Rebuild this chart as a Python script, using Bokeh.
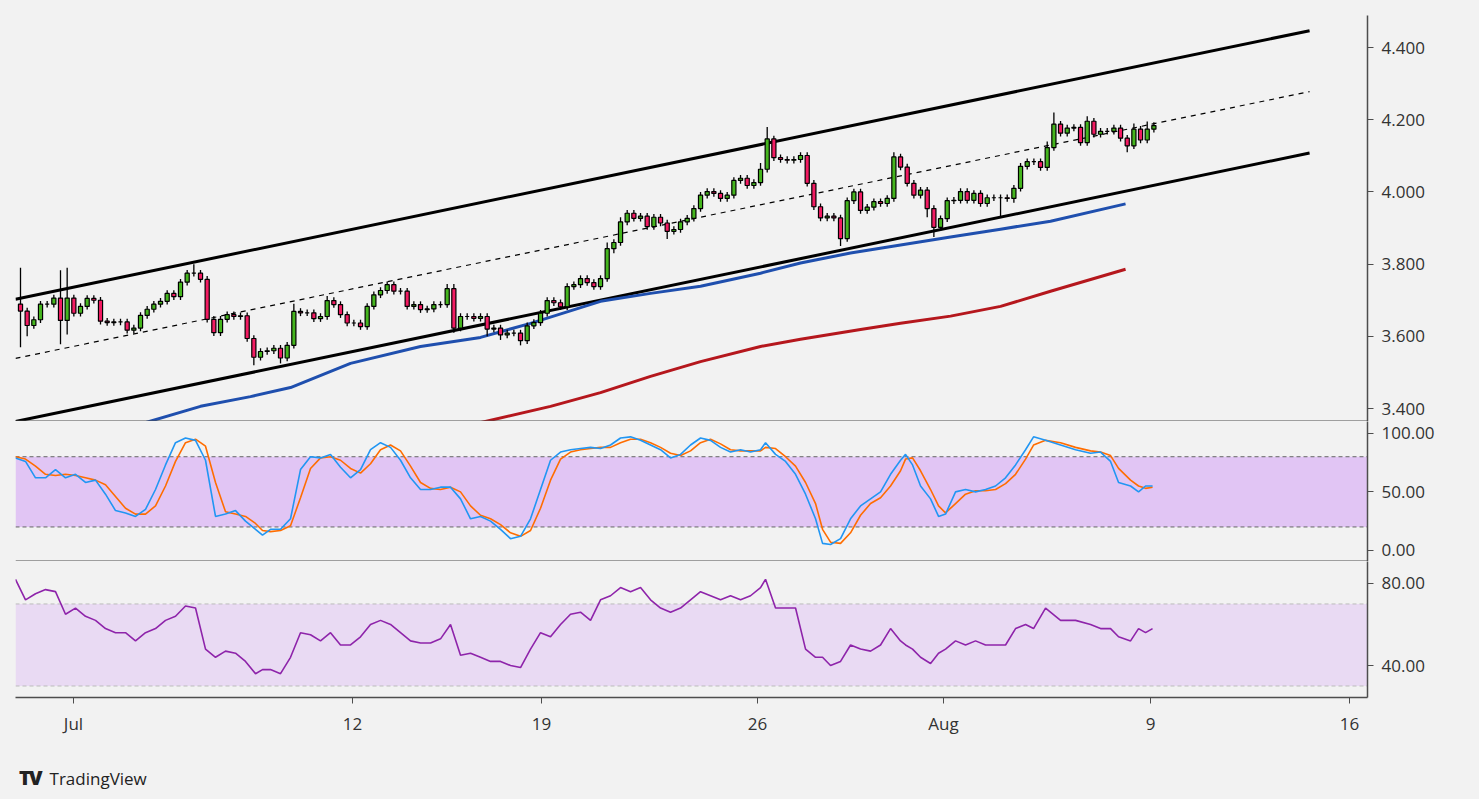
from bokeh.plotting import figure
from bokeh.layouts import column
from bokeh.models import Range1d, FixedTicker, Span, Div, ColumnDataSource, BoxAnnotation, NumeralTickFormatter
from bokeh.embed import file_html
from bokeh.resources import INLINE

# ---------------- data ----------------
closes = [3.67,3.63,3.646,3.689,3.689,3.706,3.644,3.706,3.664,3.683,
          3.705,3.70,3.642,3.638,3.64,3.64,3.617,3.623,3.658,3.675,
          3.689,3.697,3.719,3.71,3.75,3.775,3.775,3.758,3.647,3.61,
          3.647,3.66,3.655,3.657,3.594,3.542,3.558,3.56,3.567,3.54,
          3.575,3.669,3.665,3.665,3.649,3.655,3.699,3.688,3.66,3.637,
          3.637,3.627,3.683,3.715,3.727,3.743,3.725,3.725,3.683,3.688,
          3.674,3.676,3.688,3.688,3.732,3.623,3.655,3.655,3.65,3.655,
          3.62,3.623,3.604,3.609,3.609,3.588,3.629,3.638,3.664,3.699,
          3.693,3.682,3.738,3.743,3.76,3.749,3.738,3.76,3.843,3.86,
          3.917,3.941,3.927,3.933,3.904,3.93,3.914,3.891,3.896,3.917,
          3.927,3.954,3.991,4.001,3.996,3.982,3.991,4.032,4.038,4.018,
          4.026,4.063,4.147,4.095,4.09,4.088,4.09,4.101,4.024,3.959,
          3.928,3.933,3.928,3.871,3.976,4.0,3.949,3.958,3.973,3.968,
          3.982,4.097,4.069,4.024,3.991,4.005,3.954,3.902,3.926,3.976,
          3.977,4.001,3.977,3.996,3.968,3.984,3.984,3.984,3.982,4.01,
          4.071,4.084,4.084,4.068,4.123,4.188,4.163,4.177,4.179,4.137,
          4.196,4.16,4.168,4.168,4.177,4.149,4.128,4.174,4.144,4.174,
          4.184]
first_open = 3.689
big_highs = {0: 3.79, 6: 3.783, 7: 3.79, 26: 3.80, 41: 3.69, 46: 3.712, 55: 3.752,
             64: 3.745, 65: 3.745, 88: 3.86, 90: 3.93, 111: 4.08, 112: 4.18, 117: 4.11,
             131: 4.11, 154: 4.14, 155: 4.22, 160: 4.21, 167: 4.19, 169: 4.195}
big_lows = {0: 3.57, 1: 3.60, 6: 3.578, 7: 3.605, 35: 3.52, 39: 3.525, 65: 3.61,
            70: 3.60, 72: 3.59, 75: 3.575, 89: 3.83, 97: 3.87, 123: 3.85, 136: 3.93,
            137: 3.875, 147: 3.93, 149: 3.97, 166: 4.11}
wick = 0.009

chan_t = [-0.75, 193.35]
chan_upper = [3.703, 4.447]
chan_mid = [3.539, 4.278]
chan_lower = [3.364, 4.108]

ma_fast_t = [18.75,27,34.5,40.5,49.5,60,69,76.5,87,94.5,102,111,117,124.5,132,139.5,147,154.5,165.75]
ma_fast_v = [3.361,3.406,3.433,3.458,3.525,3.572,3.597,3.636,3.697,3.719,3.739,3.775,3.803,3.831,3.853,3.875,3.897,3.919,3.967]
ma_slow_t = [69,79.5,87,94.5,102,111,117,126,132,139.5,147,154.5,165.75]
ma_slow_v = [3.361,3.406,3.444,3.489,3.53,3.572,3.592,3.619,3.636,3.656,3.683,3.725,3.786]

osc_t = [-0.75,0.75,2.25,3.75,5.25,6.75,8.25,9.75,11.25,12.75,
         14.25,15.75,17.25,18.75,20.25,21.75,23.25,24.75,26.25,27.75,
         29.25,30.75,32.25,33.75,35.25,36.3,37.5,39,40.5,42,
         43.5,45,46.5,48,49.5,51,52.5,54,55.5,57,
         58.5,60,61.5,63,64.5,66,67.5,69,70.5,72,
         73.5,75,76.5,78,79.5,81,82.5,84,85.5,87,
         88.5,90,91.5,93,94.5,96,97.5,99,100.5,102,
         103.5,105,106.5,108,109.5,111,111.75,113.25,114.75,116.25,
         117.75,119.25,120.3,121.5,123,124.5,126,127.5,129,130.5,
         132,132.75,133.8,135,136.5,137.7,138.75,140.25,141.75,143.25,
         144.75,146.25,147.75,149.25,150.75,151.95,153.75,156,158.25,160.5,
         162,163.5,164.7,166.5,167.7,168.75,169.8]
stoch_k = [79,76,62,62,69,62,65,58,60,48,
           34,32,29,35,52,73,92,96,94,77,
           29,31,34,25,18,13,18,18,27,69,
           80,79,82,71,62,69,86,92,88,77,
           62,52,52,54,54,44,27,29,25,18,
           10,12,27,52,77,84,86,87,88,87,
           90,96,97,94,90,86,79,82,90,96,
           94,88,84,86,84,86,92,82,76,65,
           48,27,6,5,10,27,38,44,50,65,
           77,82,73,55,44,29,31,50,52,50,
           52,55,62,73,86,97,94,90,86,83,
           84,76,58,55,50,55,55]
stoch_d = [80,78,72,65,64,65,64,62,60,56,
           46,36,31,31,38,55,76,92,95,89,
           58,33,31,29,23,17,16,17,21,45,
           70,79,80,77,70,66,74,86,90,85,
           72,58,53,52,54,50,38,30,27,22,
           15,12,17,36,60,78,84,86,87,88,
           88,92,95,95,92,88,83,81,85,92,
           95,91,86,85,85,85,88,87,80,72,
           58,40,18,7,6,15,30,40,45,55,
           68,78,79,68,52,38,32,40,48,51,
           51,52,57,65,78,90,94,92,88,85,
           84,81,70,60,55,53,54]
rsi = [82,72,75,77,76,65,68,64,62,58,
       56,56,52,56,58,62,64,69,68,48,
       44,47,46,42,36,38,38,36,44,56,
       55,52,56,50,50,54,60,62,60,56,
       52,51,51,53,60,45,46,44,42,42,
       40,39,48,56,54,60,65,66,62,72,
       74,78,76,78,72,68,66,68,72,76,
       74,72,74,72,74,78,82,68,68,68,
       48,44,44,40,42,50,48,47,50,58,
       52,50,48,44,41,46,48,52,50,52,
       50,50,50,58,60,58,68,62,62,60,
       58,58,54,52,58,56,58]

x_tick_pos = [7.95, 49.8, 78.15, 110.55, 138.45, 169.5, 199.35]
x_tick_lab = ["Jul", "12", "19", "26", "Aug", "9", "16"]
price_ticks = [3.4, 3.6, 3.8, 4.0, 4.2, 4.4]
stoch_ticks = [0, 50, 100]
rsi_ticks = [40, 80]

# ---------------- derived ----------------
n = len(closes)
idx = list(range(n))
opens = [first_open] + closes[:-1]
highs = [big_highs.get(i, max(opens[i], closes[i]) + wick) for i in idx]
lows = [big_lows.get(i, min(opens[i], closes[i]) - wick) for i in idx]
up = [closes[i] >= opens[i] for i in idx]
src_up = ColumnDataSource(dict(x=[i for i in idx if up[i]], t=[closes[i] for i in idx if up[i]], b=[opens[i] for i in idx if up[i]]))
src_dn = ColumnDataSource(dict(x=[i for i in idx if not up[i]], t=[opens[i] for i in idx if not up[i]], b=[closes[i] for i in idx if not up[i]]))

BG = "#F2F2F2"
AX = "#4d4d4d"
TXT = "#333333"
FONT = "Open Sans"
FW = 1352
xr = Range1d(-0.75, -0.75 + FW / 6.667)


def style(p, yticks, fmt):
    p.background_fill_color = BG
    p.border_fill_color = BG
    p.outline_line_color = None
    p.grid.visible = False
    ax = p.yaxis[0]
    ax.ticker = FixedTicker(ticks=yticks)
    ax.formatter = NumeralTickFormatter(format=fmt)
    ax.axis_line_color = AX
    ax.axis_line_width = 1.5
    ax.major_tick_line_color = AX
    ax.major_tick_out = 6
    ax.major_tick_in = 0
    ax.minor_tick_line_color = None
    ax.major_label_text_font = FONT
    ax.major_label_text_font_size = "17px"
    ax.major_label_text_color = TXT
    ax.major_label_standoff = 8


common = dict(frame_width=FW, x_range=xr, y_axis_location="right", output_backend="svg",
              toolbar_location=None, min_border_left=15, min_border_right=104)

p1 = figure(frame_height=406, y_range=Range1d(3.364, 4.489), x_axis_location=None,
            min_border_top=15, min_border_bottom=0, **common)
style(p1, price_ticks, "0.000")
p1.line(chan_t, chan_upper, color="black", line_width=3)
p1.line(chan_t, chan_lower, color="black", line_width=3)
p1.line(chan_t, chan_mid, color="black", line_width=1.2, line_dash="5 5")
p1.line(ma_fast_t, ma_fast_v, color="#1f4fae", line_width=3)
p1.line(ma_slow_t, ma_slow_v, color="#b5171d", line_width=3)
p1.segment(x0=idx, y0=lows, x1=idx, y1=highs, color="black", line_width=1.3)
p1.vbar(x="x", top="t", bottom="b", width=0.62, source=src_up, fill_color="#45B51E", line_color="black", line_width=1.2)
p1.vbar(x="x", top="t", bottom="b", width=0.62, source=src_dn, fill_color="#F21B62", line_color="black", line_width=1.2)
p1.add_layout(Span(location=3.364, dimension="width", line_color=AX, line_width=2))

p2 = figure(frame_height=140, y_range=Range1d(-9.5, 110.1), x_axis_location=None,
            min_border_top=0, min_border_bottom=0, **common)
style(p2, stoch_ticks, "0.00")
p2.add_layout(BoxAnnotation(bottom=20, top=80, fill_color="#E1C5F4", fill_alpha=1, line_color=None, level="underlay"))
p2.add_layout(Span(location=80, dimension="width", line_color="#666666", line_width=1, line_dash="4 3", level="underlay"))
p2.add_layout(Span(location=20, dimension="width", line_color="#666666", line_width=1, line_dash="4 3", level="underlay"))
p2.line(osc_t, stoch_d, color="#FF6D00", line_width=1.6)
p2.line(osc_t, stoch_k, color="#2196F3", line_width=1.6)
p2.add_layout(Span(location=-9.5, dimension="width", line_color=AX, line_width=2))

p3 = figure(frame_height=136, y_range=Range1d(24.4, 90.7),
            min_border_top=0, min_border_bottom=48, **common)
style(p3, rsi_ticks, "0.00")
p3.add_layout(BoxAnnotation(bottom=30, top=70, fill_color="#E9DAF3", fill_alpha=1, line_color=None, level="underlay"))
p3.add_layout(Span(location=70, dimension="width", line_color="#bbbbbb", line_width=1, line_dash="4 3", level="underlay"))
p3.add_layout(Span(location=30, dimension="width", line_color="#bbbbbb", line_width=1, line_dash="4 3", level="underlay"))
p3.line(osc_t, rsi, color="#8E24AA", line_width=1.6)
xa = p3.xaxis[0]
xa.ticker = FixedTicker(ticks=x_tick_pos)
xa.major_label_overrides = {t: l for t, l in zip(x_tick_pos, x_tick_lab)}
xa.axis_line_color = AX
xa.axis_line_width = 1.5
xa.major_tick_line_color = AX
xa.major_tick_out = 6
xa.major_tick_in = 0
xa.minor_tick_line_color = None
xa.major_label_text_font = FONT
xa.major_label_text_font_size = "17px"
xa.major_label_text_color = TXT
xa.major_label_standoff = 8

logo = Div(text="<div style=\"font-family:'Open Sans';font-size:17px;color:#222;padding-left:14px;padding-top:14px\">"
                "<span style='font-weight:900;font-size:20px;letter-spacing:-2px'>TV</span>&nbsp; TradingView</div>",
           width=400, height=40, styles={"background-color": BG})

layout = column(p1, p2, p3, logo, spacing=0, styles={"background-color": BG})
html = file_html(layout, INLINE)
html = html.replace("<body>", "<body style=\"background:#F2F2F2\">")
open("out.html", "w").write(html)
